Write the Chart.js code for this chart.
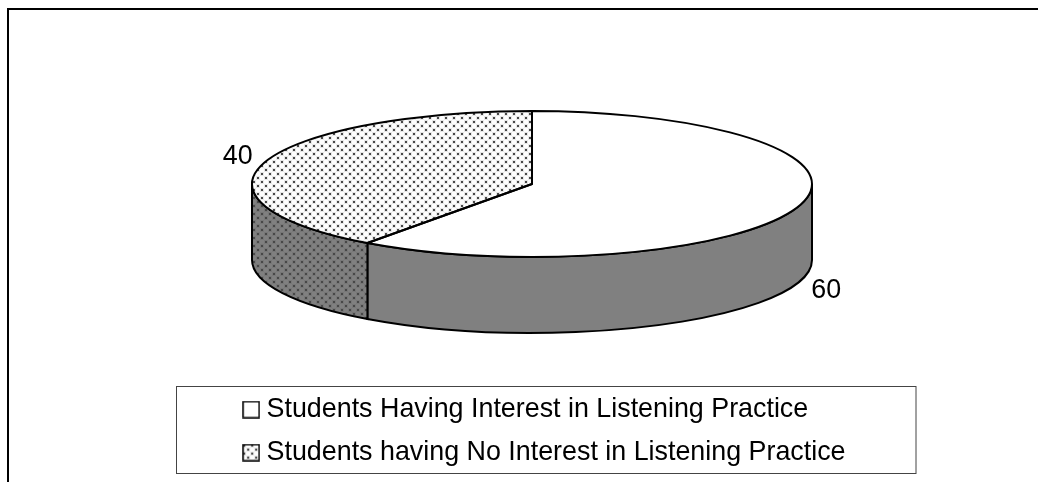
<!DOCTYPE html>
<html lang="en">
<head>
  <meta charset="UTF-8">
  <title>Interest in Listening Practice</title>
  <style>
    html, body { margin: 0; padding: 0; background: #fff; }
    #wrap { width: 1038px; height: 482px; }
  </style>
</head>
<body>
  <div id="wrap"><canvas id="pie-chart" width="1038" height="482"></canvas></div>

  <script src="https://cdn.jsdelivr.net/npm/chart.js"></script>
  <script>
    const categories = [
      'Students Having Interest in Listening Practice',
      'Students having No Interest in Listening Practice'
    ];
    const seriesValues = [60, 40];
    const valueLabels = ['60', '40'];

    // Ellipse of the tilted pie top and the height of its side wall
    const TILT = { x: 532, y: 184, rx: 280, ry: 73, depth: 76 };
    const FONT = '"Liberation Sans", Arial, sans-serif';
    const FONT_SIZE = 26.85;

    // Staggered dot tile, laid over whatever base colour is given
    function dotTile(base) {
      const c = document.createElement('canvas');
      c.width = 8;
      c.height = 8;
      const g = c.getContext('2d');
      g.fillStyle = base;
      g.fillRect(0, 0, 8, 8);
      [[1, 1], [5, 5]].forEach(([x, y]) => {
        g.fillStyle = 'rgba(40,40,40,0.10)';
        g.fillRect(x - 1, y - 1, 4, 4);
        g.fillStyle = '#484848';
        g.fillRect(x, y, 2, 2);
      });
      return c;
    }

    // Legend swatch, handed to the legend as a canvas point style
    function swatch(base, dotted) {
      const c = document.createElement('canvas');
      c.width = 18;
      c.height = 18;
      const g = c.getContext('2d');
      g.fillStyle = dotted ? g.createPattern(dotTile(base), 'repeat') : base;
      g.fillRect(1, 1, 16, 16);
      g.strokeStyle = '#000';
      g.lineWidth = 1.5;
      g.strokeRect(1, 1, 16, 16);
      return c;
    }

    const scratch = document.createElement('canvas').getContext('2d');
    const topDots = scratch.createPattern(dotTile('#fdfdfd'), 'repeat');
    const wallDots = scratch.createPattern(dotTile('#808080'), 'repeat');
    const topColors = ['#ffffff', topDots];
    const wallColors = ['#808080', wallDots];
    const swatches = [swatch('#ffffff', false), swatch('#fdfdfd', true)];

    function tracePoint(ctx, angle, dy) {
      ctx.lineTo(TILT.x + TILT.rx * Math.cos(angle), TILT.y + dy + TILT.ry * Math.sin(angle));
    }

    const tiltedPie = {
      id: 'tiltedPie',
      // side wall goes under the slices, front half of the ellipse only
      beforeDatasetsDraw(chart) {
        const ctx = chart.ctx;
        chart.getDatasetMeta(0).data.forEach((arc, i) => {
          const a0 = Math.max(arc.startAngle, 0);
          const a1 = Math.min(arc.endAngle, Math.PI);
          if (a1 <= a0) return;
          ctx.save();
          ctx.beginPath();
          ctx.ellipse(TILT.x, TILT.y, TILT.rx, TILT.ry, 0, a0, a1);
          ctx.ellipse(TILT.x, TILT.y + TILT.depth, TILT.rx, TILT.ry, 0, a1, a0, true);
          ctx.closePath();
          ctx.fillStyle = wallColors[i];
          ctx.fill();
          ctx.lineWidth = 2;
          ctx.strokeStyle = '#000';
          ctx.stroke();
          ctx.restore();
        });
      },
      // squash the round pie down to the ellipse while the slices are filled
      beforeDatasetDraw(chart) {
        const arc = chart.getDatasetMeta(0).data[0];
        const ctx = chart.ctx;
        ctx.save();
        ctx.translate(TILT.x, TILT.y);
        ctx.scale(TILT.rx / arc.outerRadius, TILT.ry / arc.outerRadius);
        ctx.translate(-arc.x, -arc.y);
        topDots.setTransform(ctx.getTransform().inverse());
      },
      afterDatasetDraw(chart) {
        chart.ctx.restore();
      },
      afterDatasetsDraw(chart) {
        const ctx = chart.ctx;
        const arcs = chart.getDatasetMeta(0).data;
        ctx.save();
        ctx.lineWidth = 2;
        ctx.strokeStyle = '#000';
        ctx.lineJoin = 'round';
        arcs.forEach((arc) => {
          ctx.beginPath();
          ctx.moveTo(TILT.x, TILT.y);
          tracePoint(ctx, arc.startAngle, 0);
          ctx.ellipse(TILT.x, TILT.y, TILT.rx, TILT.ry, 0, arc.startAngle, arc.endAngle);
          ctx.closePath();
          ctx.stroke();
        });

        // value labels sit just outside each slice's mid angle
        ctx.fillStyle = '#000';
        ctx.font = FONT_SIZE + 'px ' + FONT;
        ctx.textAlign = 'center';
        ctx.textBaseline = 'middle';
        arcs.forEach((arc, i) => {
          const mid = (arc.startAngle + arc.endAngle) / 2;
          const sin = Math.sin(mid);
          const lx = TILT.x + TILT.rx * 1.105 * Math.cos(mid);
          const ly = TILT.y + TILT.ry * 1.22 * sin + (sin > 0 ? TILT.depth + 3 : 0);
          ctx.fillText(valueLabels[i], lx, ly);
        });
        ctx.restore();
      },
      afterDraw(chart) {
        const ctx = chart.ctx;
        const legend = chart.legend;
        ctx.save();
        // outer frame, open on the right and at the bottom
        ctx.strokeStyle = '#000';
        ctx.lineWidth = 2;
        ctx.beginPath();
        ctx.moveTo(8, 482);
        ctx.lineTo(8, 9);
        ctx.lineTo(1038, 9);
        ctx.stroke();
        // box round the legend
        ctx.strokeStyle = '#444';
        ctx.lineWidth = 1;
        const boxLeft = 176.5;
        ctx.strokeRect(boxLeft, Math.round(legend.top) + 6.5, legend.right - boxLeft, 87);
        ctx.restore();
      }
    };

    new Chart(document.getElementById('pie-chart'), {
      type: 'pie',
      data: {
        labels: categories,
        datasets: [{
          data: seriesValues,
          backgroundColor: topColors,
          borderWidth: 0,
          clip: false
        }]
      },
      plugins: [tiltedPie],
      options: {
        responsive: false,
        animation: false,
        layout: { padding: { left: 233, right: 122, top: 0, bottom: 6 } },
        plugins: {
          tooltip: { enabled: false },
          legend: {
            position: 'bottom',
            align: 'start',
            labels: {
              color: '#000',
              font: { family: FONT, size: FONT_SIZE },
              padding: 16.15,
              usePointStyle: true,
              pointStyleWidth: 4,
              generateLabels(chart) {
                return categories.map((text, i) => ({
                  text,
                  index: i,
                  pointStyle: swatches[i],
                  fontColor: '#000',
                  lineWidth: 0
                }));
              }
            }
          }
        }
      }
    });
  </script>
</body>
</html>
